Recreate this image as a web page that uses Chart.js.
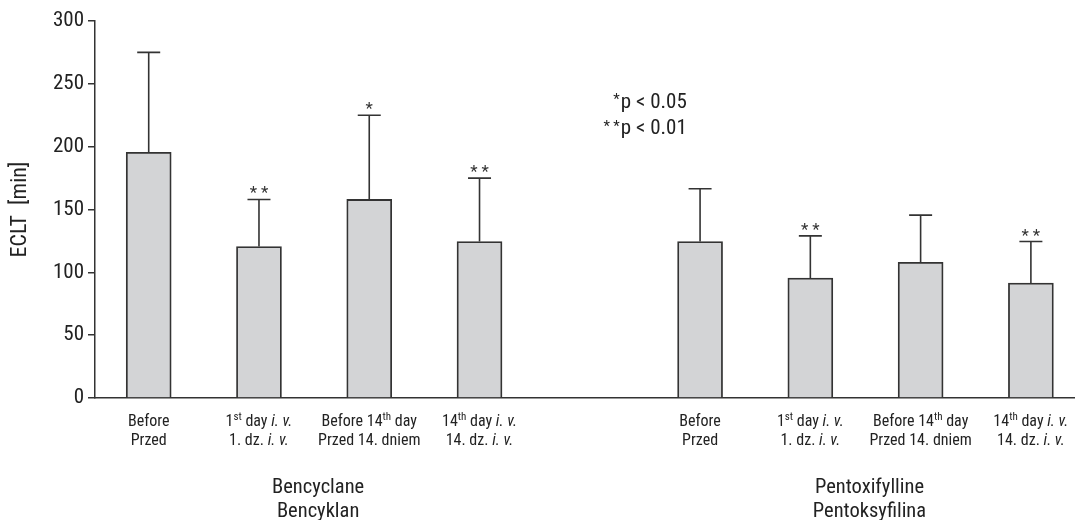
<!DOCTYPE html>
<html>
<head>
<meta charset="utf-8">
<script src="https://cdn.jsdelivr.net/npm/chart.js@4/dist/chart.umd.min.js"></script>
<style>
    body { margin: 0; background: #fff; }
    #wrap { width: 1075px; height: 520px; position: relative; }
</style>
</head>
<body>
<div id="wrap"><canvas id="ecltChart"></canvas></div>
<script>
// Chart data ({..} = superscript, [..] = italic)
const groupsEn = ['Bencyclane', 'Pentoxifylline'];
const groupsPl = ['Bencyklan', 'Pentoksyfilina'];
const conditionsEn = ['Before', '1{st} day [i. v.]', 'Before 14{th} day', '14{th} day [i. v.]'];
const conditionsPl = ['Przed', '1. dz. [i. v.]', 'Przed 14. dniem', '14. dz. [i. v.]'];

const bencyclaneMean = [195.5, 120.5, 158, 124.5];
const bencyclaneSD = [79.5, 37.5, 67, 50.5];
const bencyclaneSig = ['', '**', '*', '**'];

const pentoxifyllineMean = [124.5, 95.5, 108, 91.5];
const pentoxifyllineSD = [42, 33.5, 37.5, 33];
const pentoxifyllineSig = ['', '**', '', '**'];

const yTicks = [0, 50, 100, 150, 200, 250, 300];
const legendLines = ['*p < 0.05', '**p < 0.01'];

const FONT = '"Liberation Sans Narrow", "Roboto Condensed", "DejaVu Sans Condensed", "Liberation Sans", sans-serif';
const INK = '#333333';

// one slot per bar, with an empty slot between the two groups
const means = [bencyclaneMean, pentoxifyllineMean];
const sds = [bencyclaneSD, pentoxifyllineSD];
const sigs = [bencyclaneSig, pentoxifyllineSig];
const points = [];
means.forEach((arr, g) => {
    arr.forEach((v, c) => {
        points.push({ x: g * 5 + c, y: v, sd: sds[g][c], sig: sigs[g][c] });
    });
});

// draws text with {sup} and [italic] markup
function richText(ctx, str, cx, y, size) {
    const parts = [];
    const re = /\{([^}]*)\}|\[([^\]]*)\]|([^{\[]+)/g;
    let m;
    while ((m = re.exec(str)) !== null) {
        if (m[1] !== undefined) parts.push({ t: m[1], sup: true });
        else if (m[2] !== undefined) parts.push({ t: m[2], it: true });
        else parts.push({ t: m[3] });
    }
    const fontOf = p => (p.it ? 'italic ' : '') + (p.sup ? Math.round(size * 0.68) : size) + 'px ' + FONT;
    let total = 0;
    parts.forEach(p => { ctx.font = fontOf(p); p.w = ctx.measureText(p.t).width; total += p.w; });
    let x = cx - total / 2;
    ctx.textAlign = 'left';
    ctx.textBaseline = 'alphabetic';
    parts.forEach(p => {
        ctx.font = fontOf(p);
        ctx.fillText(p.t, x, p.sup ? y - size * 0.38 : y);
        x += p.w;
    });
}

const extras = {
    id: 'extras',
    afterDatasetsDraw(chart) {
        const ctx = chart.ctx;
        const ys = chart.scales.y;
        const meta = chart.getDatasetMeta(0);
        ctx.save();
        ctx.strokeStyle = INK;
        ctx.fillStyle = INK;
        ctx.lineWidth = 1.6;
        meta.data.forEach((bar, i) => {
            const p = points[i];
            const top = ys.getPixelForValue(p.y + p.sd);
            ctx.beginPath();
            ctx.moveTo(bar.x, bar.y);
            ctx.lineTo(bar.x, top);
            ctx.moveTo(bar.x - 11.5, top);
            ctx.lineTo(bar.x + 11.5, top);
            ctx.stroke();
            if (p.sig) {
                ctx.font = '17px ' + FONT;
                ctx.textAlign = 'center';
                ctx.textBaseline = 'alphabetic';
                ctx.fillText(p.sig.split('').join(' '), bar.x, top - 1);
            }
        });
        ctx.restore();
    },
    afterDraw(chart) {
        const ctx = chart.ctx;
        const xs = chart.scales.x, ys = chart.scales.y;
        const base = chart.chartArea.bottom;
        ctx.save();
        ctx.fillStyle = '#222';
        // category labels
        points.forEach((p, i) => {
            const c = i % 4;
            const x = xs.getPixelForValue(p.x);
            richText(ctx, conditionsEn[c], x, base + 28, 16);
            richText(ctx, conditionsPl[c], x, base + 47, 16);
        });
        // group labels
        groupsEn.forEach((g, gi) => {
            const x = (xs.getPixelForValue(gi * 5) + xs.getPixelForValue(gi * 5 + 3)) / 2 + 4;
            richText(ctx, g, x, base + 95, 20.5);
            richText(ctx, groupsPl[gi], x, base + 119, 20.5);
        });
        // significance note
        const rx = xs.getPixelForValue(4) + 97;
        const rows = [ys.getPixelForValue(235), ys.getPixelForValue(214)];
        legendLines.forEach((line, li) => {
            const stars = line.match(/^\*+/)[0];
            const rest = line.slice(stars.length);
            ctx.font = '21px ' + FONT;
            ctx.textAlign = 'right';
            ctx.textBaseline = 'middle';
            ctx.fillText(rest, rx, rows[li]);
            const w = ctx.measureText(rest).width;
            ctx.font = '15px ' + FONT;
            ctx.fillText(stars.split('').join(' '), rx - w - 1, rows[li] - 2);
        });
        ctx.restore();
    }
};

const ctx = document.getElementById('ecltChart').getContext('2d');
new Chart(ctx, {
    type: 'bar',
    data: {
        datasets: [{
            data: points,
            backgroundColor: '#d3d4d6',
            borderColor: INK,
            borderWidth: 1.8,
            barThickness: 45
        }]
    },
    options: {
        responsive: true,
        maintainAspectRatio: false,
        animation: false,
        layout: { padding: { top: 21, right: 0, bottom: 122, left: 0 } },
        plugins: { legend: { display: false }, tooltip: { enabled: false } },
        scales: {
            x: {
                type: 'linear',
                offset: false,
                min: -0.487,
                max: 8.4,
                ticks: { display: false },
                grid: { display: true, drawOnChartArea: false, drawTicks: false },
                border: { display: true, color: INK, width: 1.5 }
            },
            y: {
                min: 0,
                max: 300,
                afterBuildTicks: s => { s.ticks = yTicks.map(v => ({ value: v })); },
                afterFit: s => { s.width = 95; },
                ticks: { color: '#222', font: { family: FONT, size: 21 }, padding: 4 },
                grid: { display: true, drawOnChartArea: false, drawTicks: true, tickLength: 7, color: INK, lineWidth: 1.5 },
                border: { display: true, color: INK, width: 1.5 },
                title: { display: true, text: 'ECLT  [min]', color: '#222', font: { family: FONT, size: 22 }, padding: { top: 7, bottom: 0 } }
            }
        }
    },
    plugins: [extras]
});
</script>
</body>
</html>
